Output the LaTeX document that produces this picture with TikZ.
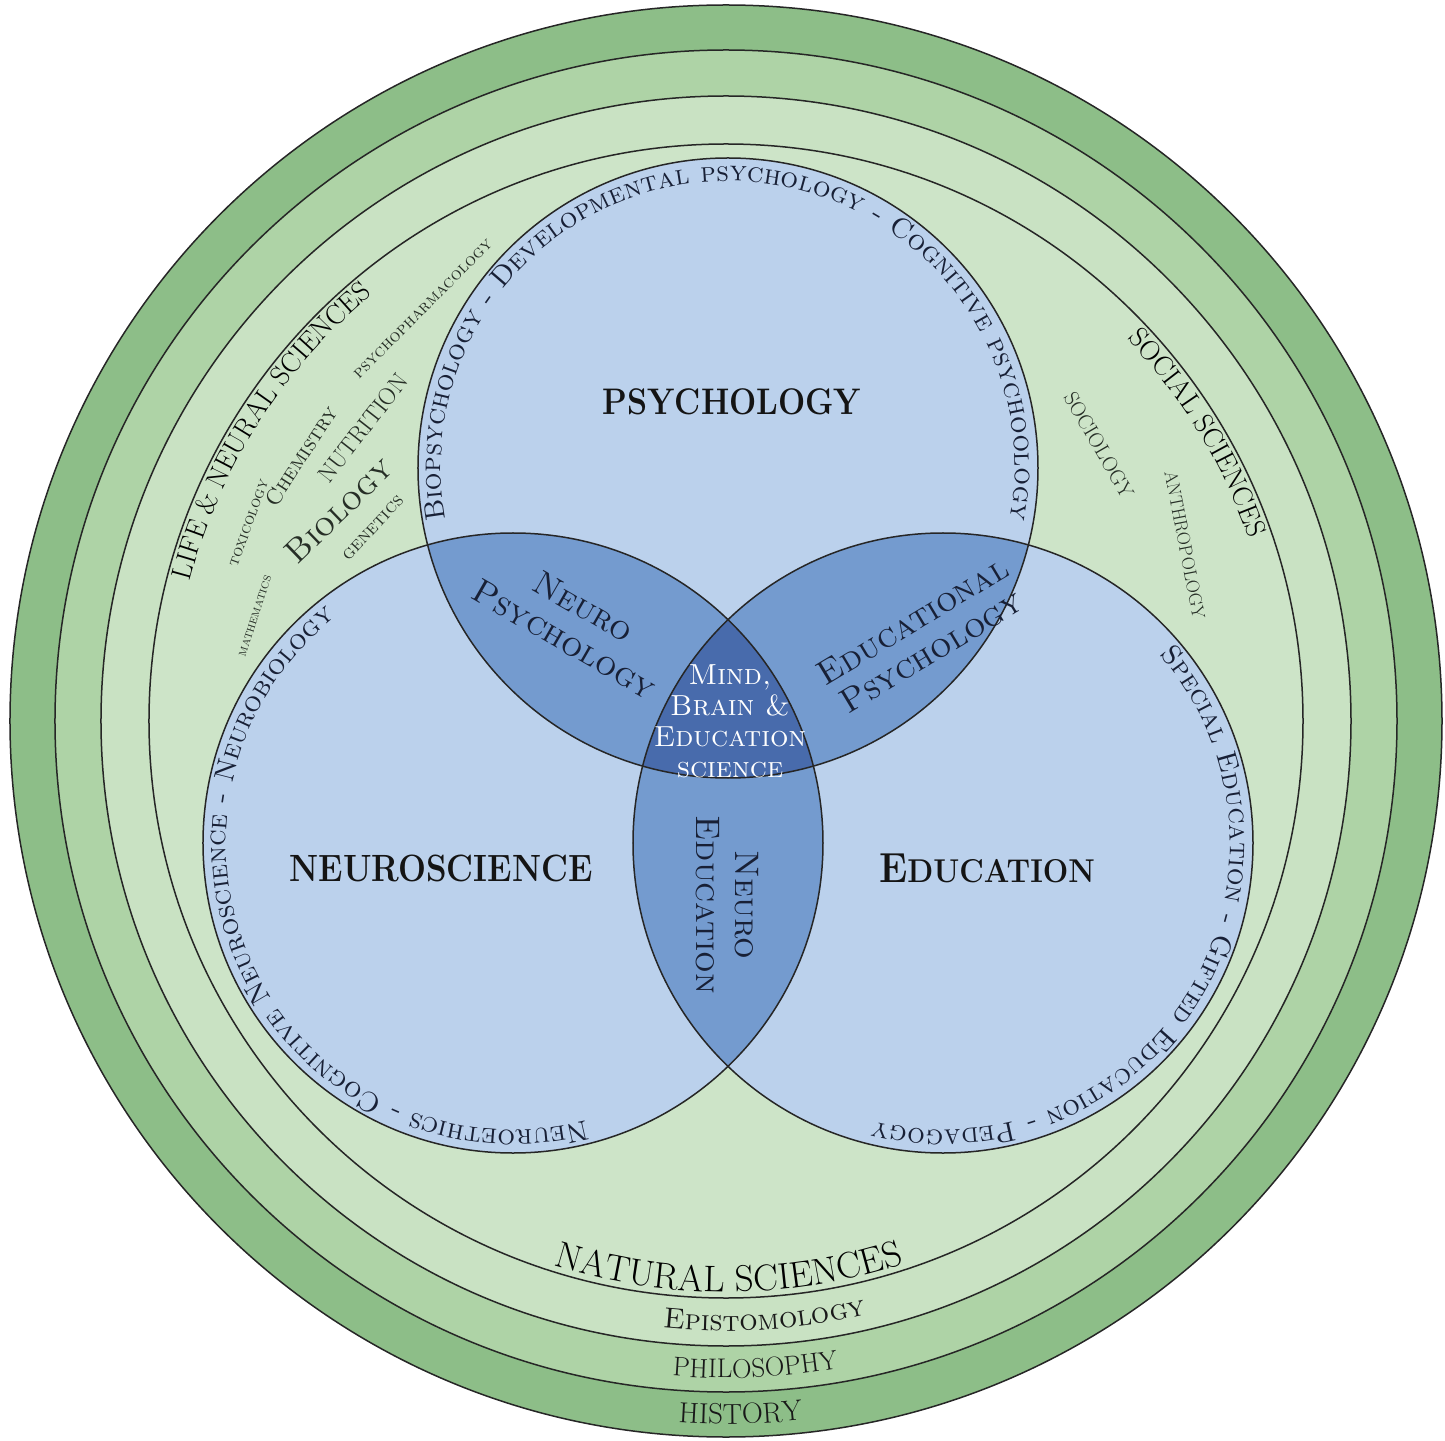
\documentclass[tikz,border=0pt]{standalone}
\usepackage{fontspec}
\usetikzlibrary{decorations.text}
\definecolor{histc}{RGB}{141,190,136}
\definecolor{philc}{RGB}{174,211,166}
\definecolor{epic}{RGB}{201,226,195}
\definecolor{natc}{RGB}{205,228,200}
\definecolor{venc}{RGB}{187,209,236}
\definecolor{pairc}{RGB}{116,155,207}
\definecolor{tripc}{RGB}{72,107,172}
\definecolor{navy}{RGB}{24,32,54}
\definecolor{olivetext}{RGB}{38,46,38}
\newcommand{\myfs}[1]{\fontsize{#1}{#1}\selectfont}
\begin{document}
\begin{tikzpicture}[x=1pt,y=1pt,
  ringline/.style={line width=1.5pt, draw=black!85},
  vline/.style={line width=1.5pt, draw=black!85},
  bigl/.style={inner sep=0pt, text=black!92, xscale=0.87, transform shape},
  lens/.style={inner sep=0pt, text=navy, align=center},
  smalll/.style={inner sep=0pt, text=olivetext}]
\useasboundingbox (-726,-719) rectangle (719,721);
\coordinate (O) at (0,0);
\coordinate (P) at (2,253);
\coordinate (N) at (-213,-122);
\coordinate (E) at (217,-122);
% rings
\draw[ringline, fill=histc] (O) circle[radius=716];
\draw[ringline, fill=philc] (O) circle[radius=671];
\draw[ringline, fill=epic] (O) circle[radius=625];
\draw[ringline, fill=natc] (O) circle[radius=577];
% venn
\fill[venc] (P) circle[radius=310];
\fill[venc] (N) circle[radius=310];
\fill[venc] (E) circle[radius=310];
\begin{scope}
  \clip (P) circle[radius=310];
  \fill[pairc] (N) circle[radius=310];
  \fill[pairc] (E) circle[radius=310];
\end{scope}
\begin{scope}
  \clip (N) circle[radius=310];
  \fill[pairc] (E) circle[radius=310];
\end{scope}
\begin{scope}
  \clip (P) circle[radius=310];
  \clip (N) circle[radius=310];
  \fill[tripc] (E) circle[radius=310];
\end{scope}
\draw[vline] (P) circle[radius=310];
\draw[vline] (N) circle[radius=310];
\draw[vline] (E) circle[radius=310];
% circle texts
\path[decorate, decoration={text along path, text align=center, text color=navy,
  text={|\myfs{28}\scshape|Biopsychology - Developmental psychology - Cognitive psychoology}}]
  (P) ++(215:287) arc[start angle=215, end angle=-35, radius=287];
\path[decorate, decoration={text along path, text align=center, text color=navy,
  text={|\myfs{28}\scshape|Neuroethics - Cognitive Neuroscience - Neurobiology}}]
  (N) ++(-60:287) arc[start angle=-60, end angle=-247, radius=287];
\path[decorate, decoration={text along path, text align=center, text color=navy,
  text={|\myfs{28}\scshape|Special Education - Gifted Education - Pedagogy}}]
  (E) ++(60:287) arc[start angle=60, end angle=-123, radius=287];
% ring texts
\path[decorate, decoration={text along path, text align=center, text color=black,
  text={|\myfs{37}|NATURAL SCIENCES}}]
  (O) ++(-115:571) arc[start angle=-115, end angle=-64.4, radius=571];
\path[decorate, decoration={text along path, text align=center, text color=black!90,
  text={|\myfs{29}\scshape|Epistomology}}]
  (O) ++(-106:610) arc[start angle=-106, end angle=-66.6, radius=610];
\path[decorate, decoration={text along path, text align=center, text color=black!90,
  text={|\myfs{27}|PHILOSOPHY}}]
  (O) ++(-105:657) arc[start angle=-105, end angle=-69.8, radius=657];
\path[decorate, decoration={text along path, text align=center, text color=black!90,
  text={|\myfs{29}|HISTORY}}]
  (O) ++(-102:703) arc[start angle=-102, end angle=-75.6, radius=703];
\path[decorate, decoration={text along path, text align=center, text color=black,
  text={|\myfs{28}|LIFE {\&} NEURAL SCIENCES}}]
  (O) ++(175:554) arc[start angle=175, end angle=120, radius=554];
\path[decorate, decoration={text along path, text align=center, text color=black,
  text={|\myfs{28}|SOCIAL SCIENCES}}]
  (O) ++(50:554) arc[start angle=50, end angle=12.8, radius=554];
% main labels
\node[bigl, font=\myfs{37}\bfseries] (psy) at (6,319) {PSYCHOLOGY};
\node[bigl, font=\myfs{38}\bfseries] (neu) at (-285,-147) {NEUROSCIENCE};
\node[bigl, xscale=1.05, font=\bfseries] (edu) at (261,-147) {{\myfs{42}E}{\myfs{33}DUCATION}};
\node[lens, font=\fontsize{34}{38}\selectfont\scshape, rotate=-30] (np) at (-152,98) {Neuro\\Psychology};
\node[lens, font=\fontsize{34}{36}\selectfont\scshape, rotate=31] (ep) at (196,85) {Educational\\Psychology};
\node[lens, font=\fontsize{34}{39}\selectfont\scshape, rotate=-90] (ne) at (1,-184) {Neuro\\Education};
\node[lens, text=white, font=\fontsize{29}{31}\selectfont\scshape] (mbe) at (4,0) {Mind,\\Brain \&\\Education\\science};
% life sciences small labels
\node[smalll, font=\myfs{17.5}\scshape, rotate=45] (pph) at (-303,412) {psychopharmacology};
\node[smalll, font=\myfs{24}, rotate=52] (nut) at (-363,293) {NUTRITION};
\node[smalll, font=\myfs{22}\scshape, rotate=57] (che) at (-425,265) {Chemistry};
\node[smalll, font=\myfs{16}\scshape, rotate=70] (tox) at (-477,198) {toxicology};
\node[smalll, font=\myfs{33}\scshape, rotate=44] (bio) at (-387,211) {Biology};
\node[smalll, font=\myfs{19}\scshape, rotate=47] (gen) at (-353,193) {genetics};
\node[smalll, font=\myfs{13.5}\scshape, rotate=72] (mat) at (-471,105) {mathematics};
% social sciences small labels
\node[smalll, font=\myfs{21}, rotate=-60] (soc) at (373,276) {SOCIOLOGY};
\node[smalll, font=\myfs{18.4}, rotate=-79] (ant) at (459,176) {ANTHROPOLOGY};
\end{tikzpicture}
\end{document}
